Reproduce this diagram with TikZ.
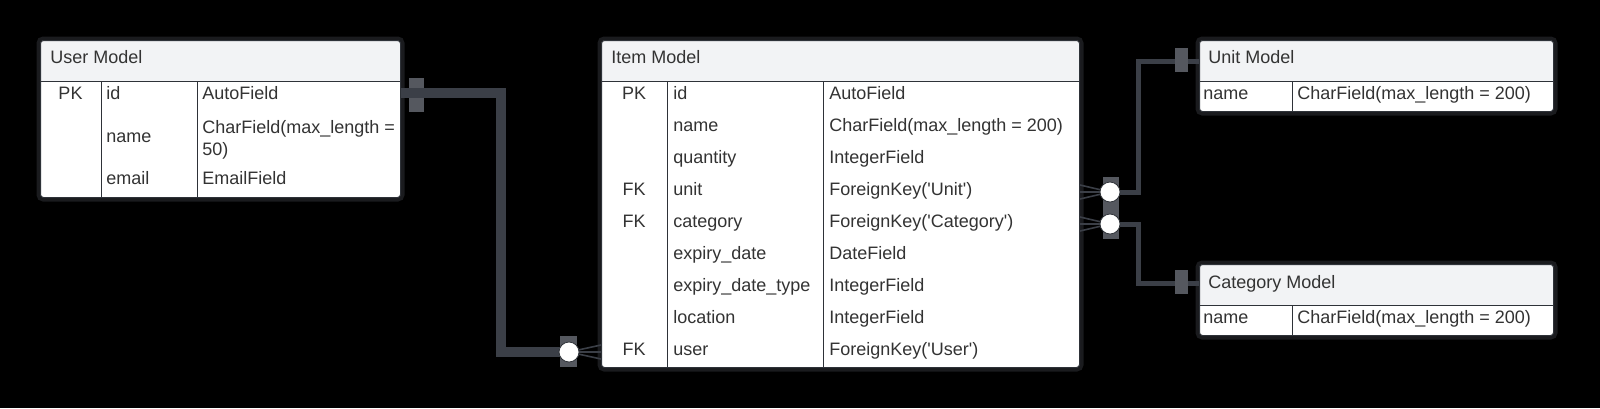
\documentclass[tikz,border=0pt]{standalone}
\usepackage{fontspec}
\setmainfont{Liberation Sans}
\usetikzlibrary{positioning}
\definecolor{hdrgrey}{HTML}{F2F3F5}
\definecolor{edgegrey}{HTML}{2E3238}
\definecolor{txtgrey}{HTML}{333333}
\definecolor{wiregrey}{HTML}{3B3F47}
\definecolor{markgrey}{HTML}{55585F}
\definecolor{halogrey}{HTML}{1A1B1E}

\begin{document}
\begin{tikzpicture}[x=0.5pt, y=-0.5pt,
    every node/.style={font=\fontsize{9}{11}\selectfont, text=txtgrey, inner sep=0pt,
      text height=7.6pt, text depth=0.9pt},
    entity/.style={draw=edgegrey, line width=0.5pt, fill=white, rounded corners=1.5pt,
      anchor=north west, preaction={draw=halogrey, line width=4pt},
      path picture={
        \fill[hdrgrey] (path picture bounding box.north west)
          rectangle ([yshift=-20.5pt]path picture bounding box.north east);
        \draw[edgegrey, line width=0.5pt] ([yshift=-20.5pt]path picture bounding box.north west)
          -- ([yshift=-20.5pt]path picture bounding box.north east);
      }},
    col/.style={draw=edgegrey, line width=0.5pt},
    field/.style={anchor=west},
    key/.style={anchor=center},
    wire/.style={draw=wiregrey, line width=2.5pt},
    thickwire/.style={draw=wiregrey, line width=5pt},
    foot/.style={draw=wiregrey, line width=0.8pt},
    endcircle/.style={circle, draw=edgegrey, line width=0.4pt, fill=white, minimum size=10pt,
      text height=, text depth=},
  ]

  % Background
  \fill[black] (0,0) rectangle (1600,408);
  \useasboundingbox (0,0) rectangle (1600,408);

  % User Model
  \node[entity, minimum width=180pt, minimum height=78.5pt, text height=, text depth=] (user) at (40,40) {};
  \draw[col] (101,81) -- (101,197);
  \draw[col] (197,81) -- (197,197);
  \node[field] (u-title) at (50,57) {User Model};
  \node[key] (u-pk) at (70.5,93) {PK};
  \node[field] (u-id) at (106,93) {id};
  \node[field] at (202,93) {AutoField};
  \node[field] (u-name) at (106,136) {name};
  \node[field, align=left, text height=, text depth=] at (202,140) {CharField(max\_length =\\50)};
  \node[field] (u-email) at (106,178) {email};
  \node[field] at (202,178) {EmailField};

  % Item Model
  \node[entity, minimum width=239pt, minimum height=163.5pt, text height=, text depth=] (item) at (601,40) {};
  \draw[col] (667,81) -- (667,367);
  \draw[col] (823,81) -- (823,367);
  \node[field] (i-title) at (611,57) {Item Model};
  \node[key] at (634,93) {PK};
  \node[field] (i-id) at (673,93) {id};
  \node[field] at (829,93) {AutoField};
  \node[field] (i-name) at (673,125) {name};
  \node[field] at (829,125) {CharField(max\_length = 200)};
  \node[field] (i-quantity) at (673,157) {quantity};
  \node[field] at (829,157) {IntegerField};
  \node[key] at (634,189) {FK};
  \node[field] (i-unit) at (673,189) {unit};
  \node[field] at (829,189) {ForeignKey(\textquotesingle Unit\textquotesingle)};
  \node[key] at (634,221) {FK};
  \node[field] (i-category) at (673,221) {category};
  \node[field] at (829,221) {ForeignKey(\textquotesingle Category\textquotesingle)};
  \node[field] (i-expiry) at (673,253) {expiry\_date};
  \node[field] at (829,253) {DateField};
  \node[field] (i-expirytype) at (673,285) {expiry\_date\_type};
  \node[field] at (829,285) {IntegerField};
  \node[field] (i-location) at (673,317) {location};
  \node[field] at (829,317) {IntegerField};
  \node[key] at (634,349) {FK};
  \node[field] (i-user) at (673,349) {user};
  \node[field] at (829,349) {ForeignKey(\textquotesingle User\textquotesingle)};

  % Unit Model
  \node[entity, minimum width=177pt, minimum height=35.5pt, text height=, text depth=] (unit) at (1199,40) {};
  \draw[col] (1292,81) -- (1292,111);
  \node[field] (n-title) at (1208,57) {Unit Model};
  \node[field] (n-name) at (1203,93) {name};
  \node[field] at (1297,93) {CharField(max\_length = 200)};

  % Category Model
  \node[entity, minimum width=177pt, minimum height=35.5pt, text height=, text depth=] (category) at (1199,264) {};
  \draw[col] (1292,305) -- (1292,335);
  \node[field] (c-title) at (1208,282) {Category Model};
  \node[field] (c-name) at (1203,317) {name};
  \node[field] at (1297,317) {CharField(max\_length = 200)};

  % User -> Item connector
  \coordinate (u-end) at (569,352);
  \fill[markgrey] (user.east |- u-id) ++(8,-15) rectangle ++(15,34);
  \draw[thickwire] (user.east |- u-id) -- ++(100,0) |- ([xshift=-4pt]u-end);
  \fill[markgrey] (u-end) ++(-9,-16) rectangle ++(17,31);
  \foreach \dy in {-7,0,7}
    \draw[foot] (u-end) -- ([yshift=-\dy*0.5pt]item.west |- u-end);
  \node[endcircle] (u-circle) at (u-end) {};

  % Item -> Unit / Category connectors
  \coordinate (n-end) at (1110,192);
  \coordinate (c-end) at (1110,224);
  \draw[wire] (n-end) -- ++(28,0) |- ([yshift=-10.5pt]unit.north west);
  \draw[wire] (c-end) -- ++(28,0) |- ([yshift=-9.5pt]category.north west);
  \fill[markgrey] ([yshift=-10.5pt]unit.north west) ++(-24,-13) rectangle ++(13,24);
  \fill[markgrey] ([yshift=-9.5pt]category.north west) ++(-24,-13) rectangle ++(13,24);
  \fill[markgrey] (1103,177) rectangle (1119,239);
  \foreach \dy in {-7,0,7} {
    \draw[foot] (n-end) -- ([yshift=-\dy*0.5pt]item.east |- n-end);
    \draw[foot] (c-end) -- ([yshift=-\dy*0.5pt]item.east |- c-end);
  }
  \node[endcircle] (n-circle) at (n-end) {};
  \node[endcircle] (c-circle) at (c-end) {};

\end{tikzpicture}
\end{document}
